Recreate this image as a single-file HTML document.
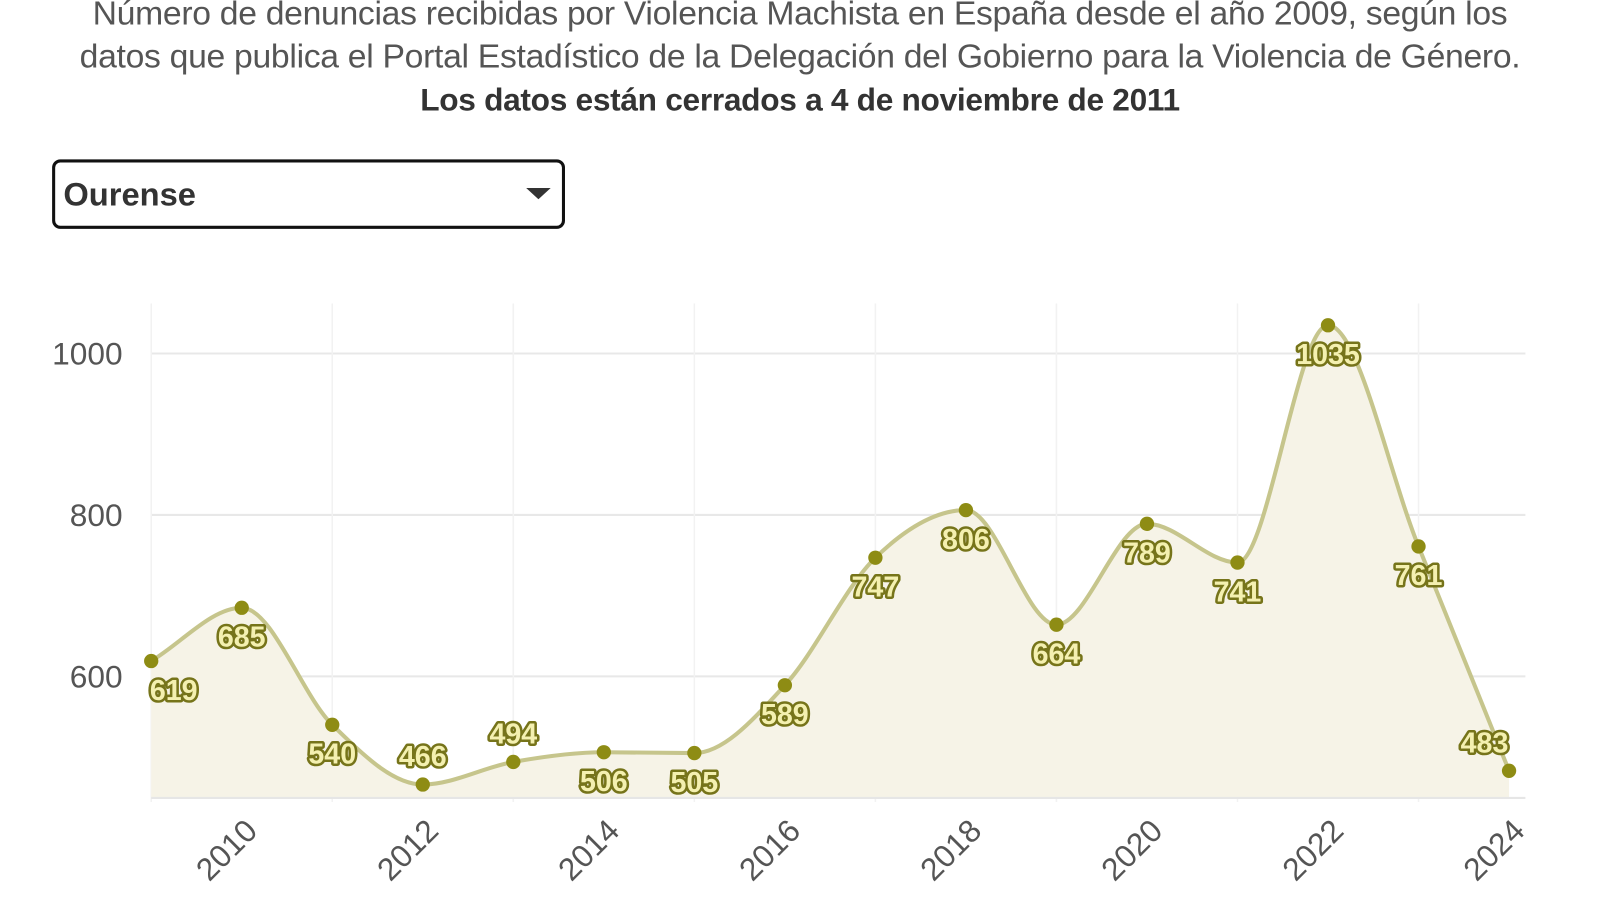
<!DOCTYPE html>
<html><head><meta charset="utf-8">
<style>
body{margin:0;width:1600px;height:900px;background:#fff;overflow:hidden;font-family:"Liberation Sans",sans-serif}
#w{position:absolute;left:0;top:0;width:1566px;height:881px;transform:scale(1.0217);transform-origin:0 0}
.t{position:absolute;left:0;width:1566px;text-align:center;font-size:33px;color:#555;line-height:42px;letter-spacing:-0.3px}
</style></head><body><div id="w">
<div class="t" style="top:-8px">Número de denuncias recibidas por Violencia Machista en España desde el año 2009, según los<br>datos que publica el Portal Estadístico de la Delegación del Gobierno para la Violencia de Género.<br><b style="color:#333;font-size:31px">Los datos están cerrados a 4 de noviembre de 2011</b></div>
<div style="position:absolute;left:51px;top:156px;width:502px;height:68px;border:3px solid #111;border-radius:8px;box-sizing:border-box"></div>
<div style="position:absolute;left:62px;top:172px;font-size:32px;font-weight:bold;color:#333">Ourense</div>
<div style="position:absolute;left:515px;top:184px;width:0;height:0;border-left:12px solid transparent;border-right:12px solid transparent;border-top:11px solid #333"></div>
<svg id="s" width="1566" height="881" style="position:absolute;left:0;top:0"></svg>
</div>
<script>
const d=[619,685,540,466,494,506,505,589,747,806,664,789,741,1035,761,483];
const X=i=>148+i*88.6, Y=v=>346+(1000-v)*0.79;
const P=d.map((v,i)=>[X(i),Y(v)]);
const n=P.length,m=[],sl=[];
for(let i=0;i<n-1;i++){sl[i]=(P[i+1][1]-P[i][1])/(P[i+1][0]-P[i][0]);}
m[0]=sl[0];m[n-1]=sl[n-2];
for(let i=1;i<n-1;i++){m[i]=sl[i-1]*sl[i]<=0?0:(sl[i-1]+sl[i])/2;}
let path=`M${P[0][0]},${P[0][1]}`;
for(let i=0;i<n-1;i++){const h=(P[i+1][0]-P[i][0])/3;
path+=`C${P[i][0]+h},${P[i][1]+m[i]*h} ${P[i+1][0]-h},${P[i+1][1]-m[i+1]*h} ${P[i+1][0]},${P[i+1][1]}`;}
let s='';
for(let v of [600,800,1000]){s+=`<line x1="148" x2="1493" y1="${Y(v)}" y2="${Y(v)}" stroke="#e8e8e8" stroke-width="2"/><text x="120" y="${Y(v)+11}" text-anchor="end" font-size="31" fill="#555">${v}</text>`;}
for(let i=0;i<16;i+=2){s+=`<line x1="${X(i)}" x2="${X(i)}" y1="297" y2="785" stroke="#f2f2f2" stroke-width="1.5"/>`;}
for(let i=1;i<16;i+=2){const x=X(i);s+=`<text transform="translate(${x+17},${815}) rotate(-45)" text-anchor="end" font-size="31" fill="#555">${2009+i}</text>`;}
s+=`<path d="${path}L${P[n-1][0]},781L148,781Z" fill="#f6f3e7"/>`;
s+=`<line x1="148" x2="1493" y1="781" y2="781" stroke="#e6e6e6" stroke-width="2"/>`;
s+=`<path d="${path}" fill="none" stroke="#c6c58c" stroke-width="4"/>`;
const off={3:-28,4:-28,15:-28,13:28};
P.forEach((p,i)=>{s+=`<circle cx="${p[0]}" cy="${p[1]}" r="7" fill="#8e8c14"/>`;});
P.forEach((p,i)=>{let dy=off[i]!==undefined?off[i]:28;let x=p[0];if(i==0)x+=22;if(i==15)x-=24;
s+=`<text x="${x}" y="${p[1]+dy+10}" text-anchor="middle" font-size="28" font-weight="bold" fill="#f4f0b0" stroke="#76741a" stroke-width="5" paint-order="stroke" stroke-linejoin="round">${d[i]}</text>`;});
document.getElementById('s').innerHTML=s;
</script>
</body></html>
